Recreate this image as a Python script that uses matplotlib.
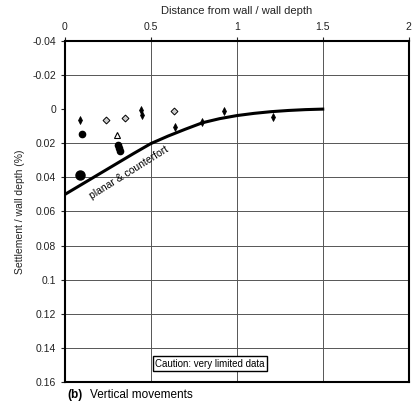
"""
Settlement / wall depth against distance from wall (vertical movements)
"""

import matplotlib.pyplot as plt

# Design curve: planar & counterfort
curve_x = [0, 0.1, 0.2, 0.3, 0.4, 0.5, 0.6, 0.7, 0.8, 0.9, 1.0, 1.1,
           1.2, 1.3, 1.4, 1.5]
curve_y = [0.050, 0.044, 0.038, 0.032, 0.026, 0.0202, 0.0158, 0.0118,
           0.0080, 0.0056, 0.0038, 0.0025, 0.0015, 0.0008, 0.0003, 0.0]

# Measured points - thin filled diamonds
thin_x = [0.09, 0.44, 0.45, 0.64, 0.80, 0.923, 1.21]
thin_y = [0.0063, 0.0005, 0.0034, 0.0106, 0.0073, 0.0010, 0.0044]

# Measured points - open diamonds
open_x = [0.24, 0.35, 0.634]
open_y = [0.0065, 0.0054, 0.0010]

# Measured points - filled circles
dot_x = [0.10, 0.31, 0.315, 0.32]
dot_y = [0.0145, 0.021, 0.023, 0.0245]

# Big filled circle
big_x = [0.087]
big_y = [0.0384]

# Triangle
tri_x = [0.30]
tri_y = [0.015]

x_ticks = [0, 0.5, 1, 1.5, 2]
y_ticks = [-0.04, -0.02, 0, 0.02, 0.04, 0.06, 0.08, 0.1, 0.12, 0.14, 0.16]
y_labels = ['-0.04', '-0.02', '0', '0.02', '0.04', '0.06', '0.08', '0.1',
            '0.12', '0.14', '0.16']

plt.rcParams['font.family'] = ['Liberation Sans', 'DejaVu Sans']

fig = plt.figure(figsize=(4.14, 4.05), dpi=100)
ax = fig.add_axes([0.157, 0.057, 0.830, 0.842])

ax.set_xlim(0, 2)
ax.set_ylim(0.16, -0.04)

# Grid (no line at zero in the original)
for gx in [0.5, 1.0, 1.5]:
    ax.axvline(gx, color='#555555', lw=0.7, zorder=1)
for gy in [-0.02, 0.02, 0.04, 0.06, 0.08, 0.1, 0.12, 0.14]:
    ax.axhline(gy, color='#555555', lw=0.7, zorder=1)

ax.plot(curve_x, curve_y, color='black', lw=2.2, zorder=3,
        solid_joinstyle='round')

ax.plot(thin_x, thin_y, 'd', color='black', ms=4, mew=0.5, zorder=4)
ax.plot(open_x, open_y, 'D', mfc='#cccccc', mec='black', ms=3.5, mew=0.7, zorder=4)
ax.plot(dot_x, dot_y, 'o', color='black', ms=4.5, zorder=4)
ax.plot(big_x, big_y, 'o', color='black', ms=6.5, zorder=4)
ax.plot(tri_x, tri_y, '^', mfc='white', mec='black', ms=4, mew=0.8, zorder=4)

ax.text(0.37, 0.037, 'planar & counterfort', rotation=32, fontsize=7.5,
        ha='center', va='center', rotation_mode='anchor')

ax.text(0.843, 0.1494, 'Caution: very limited data', fontsize=7,
        ha='center', va='center',
        bbox=dict(boxstyle='square,pad=0.25', fc='white', ec='black', lw=1))

ax.xaxis.tick_top()
ax.xaxis.set_label_position('top')
ax.set_xticks(x_ticks)
ax.set_xticklabels(['0', '0.5', '1', '1.5', '2'])
ax.set_xlabel('Distance from wall / wall depth', fontsize=8, color='#222222',
              labelpad=6)
ax.set_yticks(y_ticks)
ax.set_yticklabels(y_labels)
ax.set_ylabel('Settlement / wall depth (%)', fontsize=7.5, color='#222222',
              labelpad=5)
ax.tick_params(axis='both', labelsize=7.5, length=3, width=0.8,
               colors='#222222', direction='out')

for s in ax.spines.values():
    s.set_linewidth(1.5)
    s.set_color('black')

fig.text(0.162, 0.025, '(b)', fontsize=8.5, fontweight='bold', va='center')
fig.text(0.218, 0.025, 'Vertical movements', fontsize=8.5, va='center')

fig.savefig('out.png', dpi=100, facecolor='white')
plt.close(fig)
